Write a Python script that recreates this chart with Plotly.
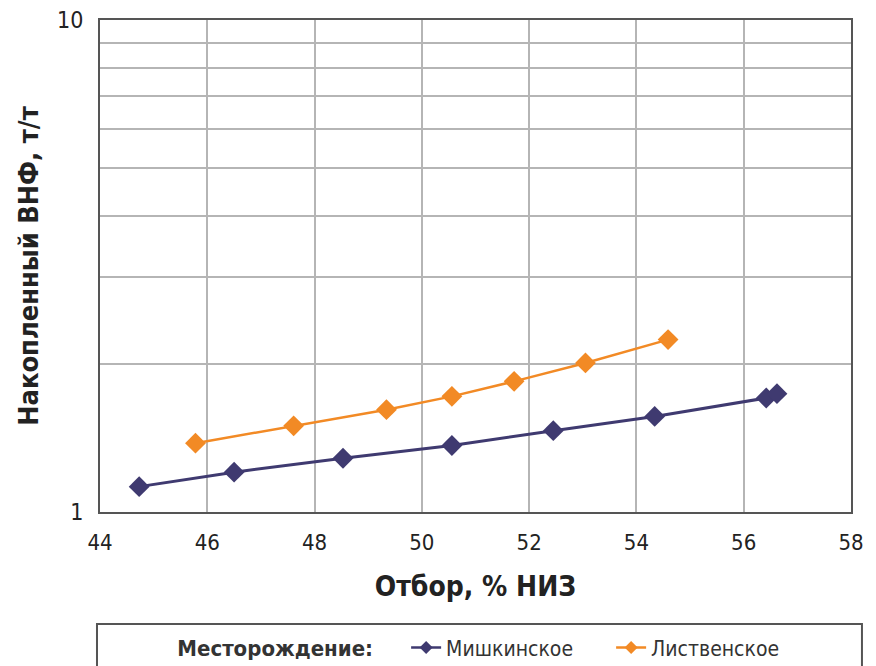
import plotly.graph_objects as go

# Data
mish_x = [44.73, 46.50, 48.53, 50.56, 52.45, 54.34, 56.42, 56.62]
mish_y = [1.126, 1.205, 1.286, 1.365, 1.463, 1.564, 1.705, 1.740]
list_x = [45.78, 47.61, 49.34, 50.56, 51.72, 53.05, 54.59]
list_y = [1.380, 1.497, 1.614, 1.718, 1.843, 2.009, 2.241]
series_names = ["Мишкинское", "Лиственское"]

x_ticks = [44, 46, 48, 50, 52, 54, 56, 58]
y_grid = [1, 2, 3, 4, 5, 6, 7, 8, 9, 10]
y_labels = ["1", "", "", "", "", "", "", "", "", "10"]

FONT = "DejaVu Sans Condensed, Liberation Sans Narrow, Roboto, sans-serif"
BLUE = "#3f3a70"
ORANGE = "#f28a25"

fig = go.Figure()
fig.add_trace(go.Scatter(
    x=mish_x, y=mish_y, name=series_names[0], mode="lines+markers",
    line=dict(color=BLUE, width=3), showlegend=False,
    marker=dict(symbol="diamond", size=16, color=BLUE)))
fig.add_trace(go.Scatter(
    x=list_x, y=list_y, name=series_names[1], mode="lines+markers",
    line=dict(color=ORANGE, width=2.5), showlegend=False,
    marker=dict(symbol="diamond", size=16, color=ORANGE)))
# legend entries (smaller symbols, as in the reference legend)
for nm, col in zip(series_names, [BLUE, ORANGE]):
    fig.add_trace(go.Scatter(
        x=[None], y=[None], name=nm, mode="lines+markers",
        line=dict(color=col, width=2.5),
        marker=dict(symbol="diamond", size=10, color=col)))

fig.update_layout(
    width=868, height=658,
    margin=dict(l=92, r=25, t=12, b=154, autoexpand=False),
    paper_bgcolor="white", plot_bgcolor="white",
    font=dict(family=FONT, size=18, color="#222222"),
    showlegend=True,
    legend=dict(
        orientation="h", x=0.527, xanchor="center", y=-0.276, yanchor="middle",
        title=dict(text="<b>Месторождение:</b>\u00a0\u00a0\u00a0\u00a0",
                   font=dict(size=22, family=FONT)),
        font=dict(size=21, family=FONT, color="#333333"),
        bgcolor="rgba(0,0,0,0)",
        entrywidth=160,
    ),
    shapes=[dict(type="rect", xref="paper", yref="paper",
                 x0=-0.004, x1=1.0146, y0=-0.40, y1=-0.2276,
                 line=dict(color="#555555", width=2))],
)

fig.update_xaxes(
    range=[44, 58], tickvals=x_ticks, showgrid=True, gridcolor="#b5b5b5",
    gridwidth=2, zeroline=False, showline=True, linecolor="#555555",
    linewidth=2, mirror=True, ticks="outside", ticklen=10,
    tickcolor="rgba(0,0,0,0)", tickfont=dict(size=22, family=FONT),
    automargin=False, ticklabeloverflow="allow",
    title=dict(text="<b>Отбор, % НИЗ</b>", font=dict(size=28, family=FONT),
               standoff=22),
)
fig.update_yaxes(
    type="log", range=[0, 1], tickvals=y_grid, ticktext=y_labels,
    showgrid=True, gridcolor="#b5b5b5", gridwidth=2, zeroline=False,
    showline=True, linecolor="#555555", linewidth=2, mirror=True,
    ticks="outside", ticklen=10, tickcolor="rgba(0,0,0,0)",
    tickfont=dict(size=23, family=FONT), automargin=False,
    ticklabeloverflow="allow",
    title=dict(text="<b>Накопленный ВНФ, т/т</b>",
               font=dict(size=27, family=FONT), standoff=11),
)

fig.write_html("out.html")
